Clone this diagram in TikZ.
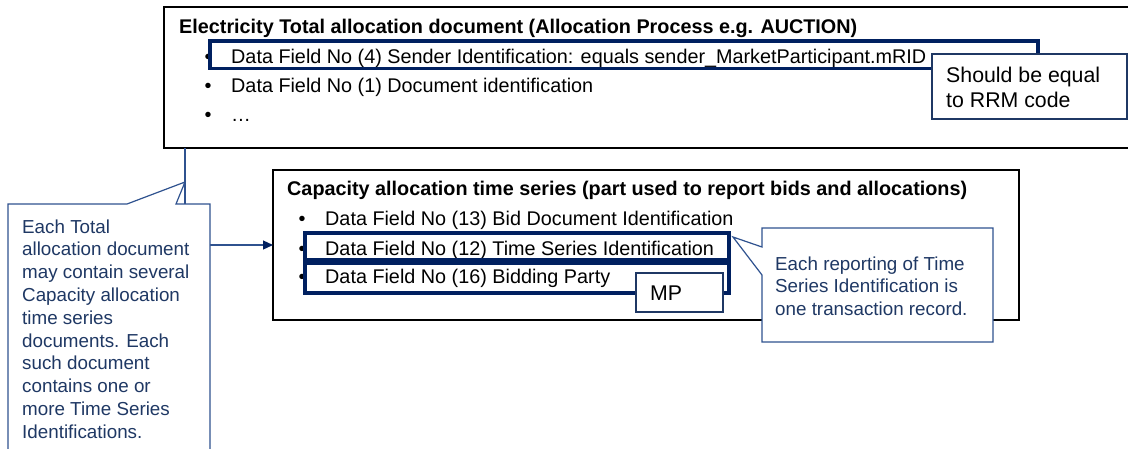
\documentclass[tikz,border=0pt]{standalone}
\usepackage{fontspec}
\setmainfont{Liberation Sans}
\usetikzlibrary{arrows.meta}
\definecolor{navy}{RGB}{0,32,96}
\definecolor{noteline}{RGB}{47,82,143}
\definecolor{notetext}{RGB}{31,56,100}
\definecolor{tagline}{RGB}{31,56,100}

\begin{document}
\begin{tikzpicture}[x=1pt,y=-1pt,
  txt/.style={anchor=base west, inner sep=0pt, font=\fontsize{19.8}{23}\selectfont},
  ttl/.style={anchor=base west, inner sep=0pt, font=\fontsize{19.8}{23}\selectfont\bfseries},
  dot/.style={anchor=base, inner sep=0pt, font=\fontsize{19.8}{23}\selectfont},
  ntxt/.style={anchor=base west, inner sep=0pt, text=notetext, font=\fontsize{18.8}{22}\selectfont},
  tagtxt/.style={anchor=base west, inner sep=0pt, font=\fontsize{21.3}{25}\selectfont},
  docbox/.style={draw=black, line width=1.5pt, fill=white, anchor=north west, inner sep=0pt, outer sep=0pt},
  hilite/.style={draw=navy, line width=3.5pt, anchor=north west, inner sep=0pt, outer sep=0pt},
  tagbox/.style={draw=tagline, line width=1.4pt, fill=white, anchor=north west, inner sep=0pt, outer sep=0pt},
  note/.style={draw=noteline, line width=1.2pt, fill=white, line join=miter},
  conn/.style={draw=noteline, line width=1.2pt, -{Triangle[length=10pt,width=9pt]}, arrows={[color=navy]}}
]
\useasboundingbox (0,0) rectangle (1128,448);
\clip (0,0) rectangle (1128,448);

% document frames
\node[docbox, minimum width=980, minimum height=141] (total) at (164,7) {};
\node[docbox, minimum width=746, minimum height=150] (series) at (273,170) {};

% link from the total allocation document to its time series
\draw[conn] (total.south west) ++(21,0) |- (series.west);

% Electricity Total allocation document
\node[ttl] (ttot) at (179,33) {Electricity Total allocation document (Allocation Process e.g. AUCTION)};
\node[dot] (b1) at (208,63) {•};
\node[txt] (f4) at (231,63) {Data Field No (4) Sender Identification: equals sender\_MarketParticipant.mRID};
\node[dot] (b2) at (208,92) {•};
\node[txt] (f1) at (231,92) {Data Field No (1) Document identification};
\node[dot] (b3) at (208,121) {•};
\node[txt] (fx) at (231,121) {…};

% Capacity allocation time series
\node[ttl] (tser) at (287,195) {Capacity allocation time series (part used to report bids and allocations)};
\node[dot] (b4) at (302,225) {•};
\node[txt] (f13) at (325,225) {Data Field No (13) Bid Document Identification};
\node[dot] (b5) at (302,255) {•};
\node[txt] (f12) at (325,255) {Data Field No (12) Time Series Identification};
\node[dot] (b6) at (302,283) {•};
\node[txt] (f16) at (325,283) {Data Field No (16) Bidding Party};

% highlighted fields
\node[hilite, minimum width=828, minimum height=27.7] (h4) at (210,41) {};
\node[hilite, minimum width=424, minimum height=27] (h12) at (305,233) {};
\node[hilite, minimum width=424, minimum height=29.5] (h16) at (305,263.5) {};

% tags
\node[tagbox, minimum width=195, minimum height=65] (rrm) at (932,54) {};
\node[tagtxt] (rrm1) at (946,82) {Should be equal};
\node[tagtxt] (rrm2) at (946,107) {to RRM code};
\node[tagbox, minimum width=87, minimum height=39] (mp) at (636,273) {};
\node[tagtxt] (mpt) at (650,300) {MP};

% notes
\draw[note] (8,204) -- (127,204) -- (185,182) -- (176,204) -- (210,204)
  -- (210,470) -- (8,470) -- cycle;
\foreach \t [count=\i] in {Each Total, allocation document, may contain several,
  Capacity allocation, time series, documents. Each, such document,
  contains one or, more Time Series, Identifications.}
  \node[ntxt] (ln\i) at (22,{233+22.8*(\i-1)}) {\t};

\draw[note] (762,228) -- (993,228) -- (993,342) -- (762,342) -- (762,275)
  -- (733,237) -- (762,247) -- cycle;
\foreach \t [count=\i] in {Each reporting of Time, Series Identification is,
  one transaction record.}
  \node[ntxt] (rn\i) at (775,{270+22.8*(\i-1)}) {\t};
\end{tikzpicture}
\end{document}
